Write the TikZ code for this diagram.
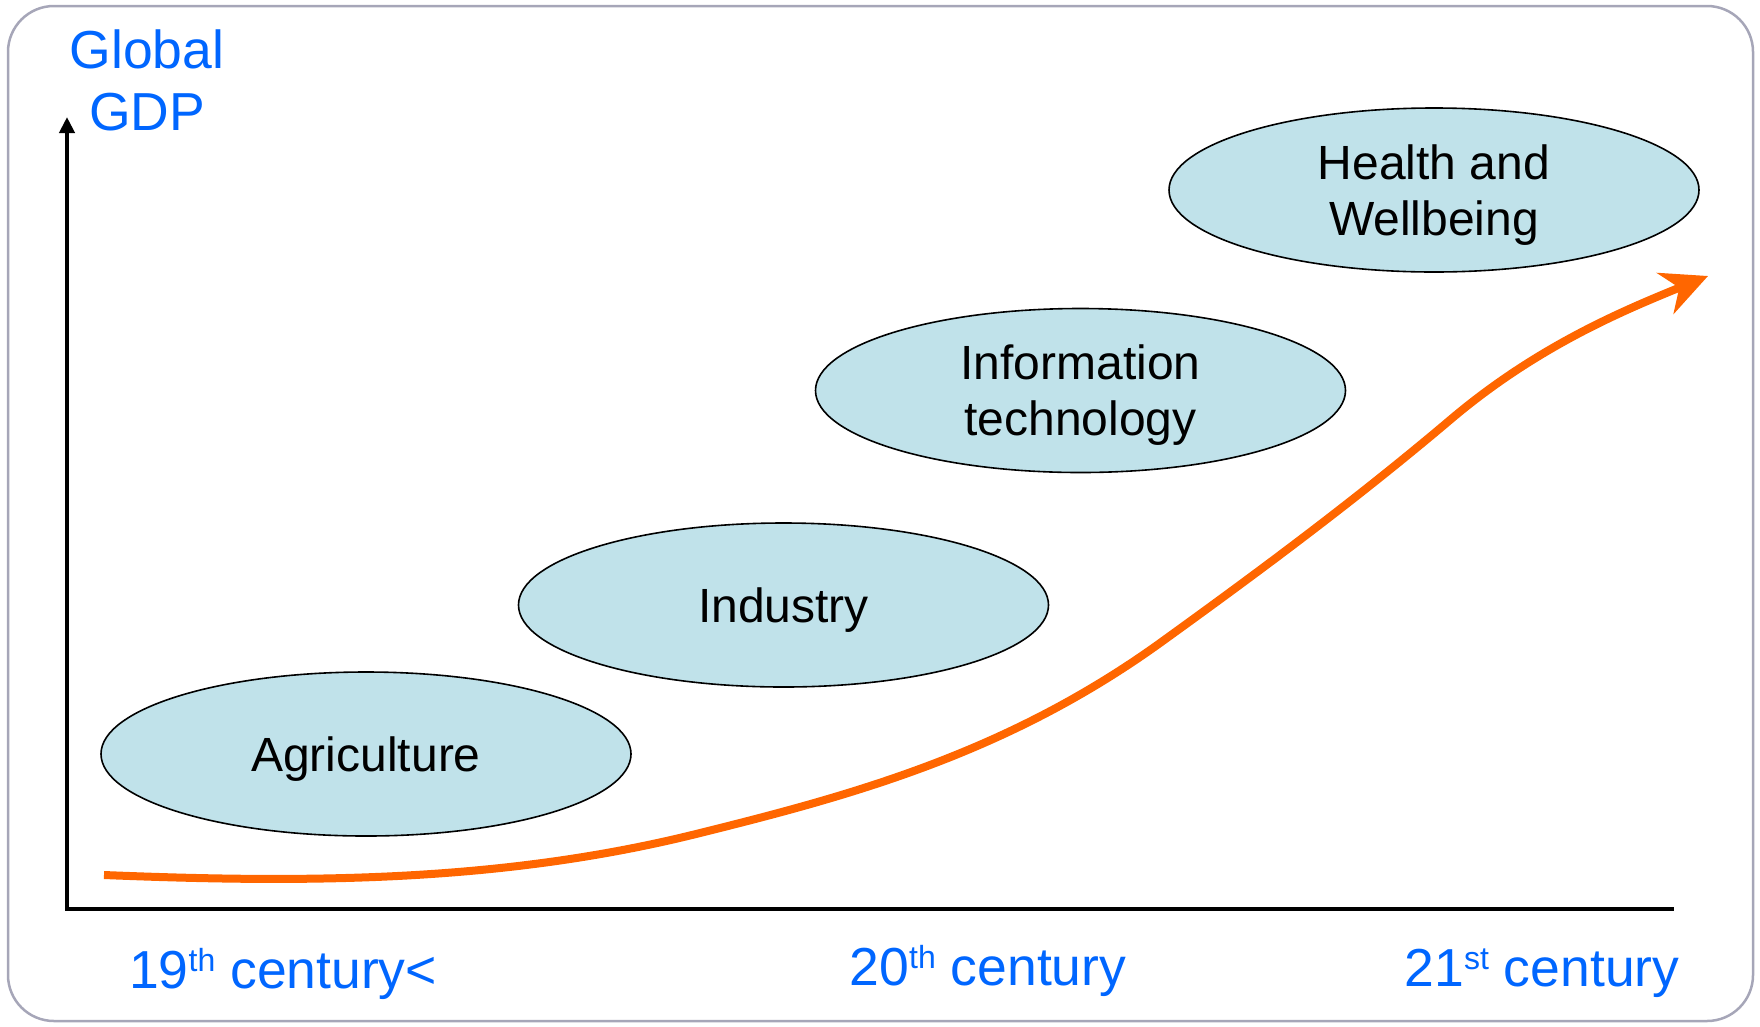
\documentclass[tikz,border=0pt]{standalone}
\usepackage{fontspec}
\setmainfont{Liberation Sans}
\usetikzlibrary{arrows.meta,shapes.geometric}
\definecolor{gdpblue}{RGB}{0,102,255}
\definecolor{curveorange}{RGB}{255,102,0}
\definecolor{ellfill}{RGB}{192,226,234}
\definecolor{framegray}{RGB}{166,166,184}
\newcommand{\supx}[1]{\raisebox{17pt}{\fontsize{32}{32}\selectfont #1}}
\begin{document}
\begin{tikzpicture}[x=1pt,y=-1pt,
  era/.style={ellipse, draw=black, line width=1.6pt, fill=ellfill,
    minimum width=530pt, minimum height=164pt, inner sep=0pt, align=center,
    text depth=0pt, font=\fontsize{48}{56}\selectfont},
  bluelabel/.style={text=gdpblue, font=\fontsize{53.5}{62}\selectfont, inner sep=0pt},
  axisline/.style={line width=4pt},
  growth/.style={curveorange, line width=8pt,
    -{Stealth[length=46pt,width=44pt,inset=15pt]}}
]
\useasboundingbox (0,0) rectangle (1760,1026);
\draw[framegray, line width=2.5pt, rounded corners=46pt] (8,6) rectangle (1753,1021);

% axes
\coordinate (ytop) at (67,117);
\coordinate (origin) at (67,909);
\coordinate (xend) at (1674,909);
\draw[axisline, {Triangle[length=16pt,width=15pt]}-] (ytop) -- (origin) -- (xend);

% eras
\node[era] (agri) at (366,754) {Agriculture};
\node[era] (ind) at (783.5,605) {Industry};
\node[era] (it) at (1080.5,390.5) {Information\\technology};
\node[era] (health) at (1434,190) {Health and\\Wellbeing};

% growth curve
\coordinate (gstart) at (104,875);
\coordinate (g1) at (700,833);
\coordinate (g2) at (1160,643);
\coordinate (g3) at (1450,420);
\coordinate (gend) at (1708,276);
\draw[growth] (gstart)
  .. controls (303,883) and (501,883) .. (g1)
  .. controls (853,795) and (1007,753) .. (g2)
  .. controls (1257,573) and (1353,502) .. (g3)
  .. controls (1536,347) and (1622,311) .. (gend);

% labels
\node[bluelabel, align=center, anchor=base] (gdp) at (147,130) {Global\\GDP};
\node[bluelabel, anchor=base west] (c19) at (129,988) {19\supx{th} century<};
\node[bluelabel, anchor=base west] (c20) at (849.5,985) {20\supx{th} century};
\node[bluelabel, anchor=base west] (c21) at (1404.5,986) {21\supx{st} century};
\end{tikzpicture}
\end{document}
